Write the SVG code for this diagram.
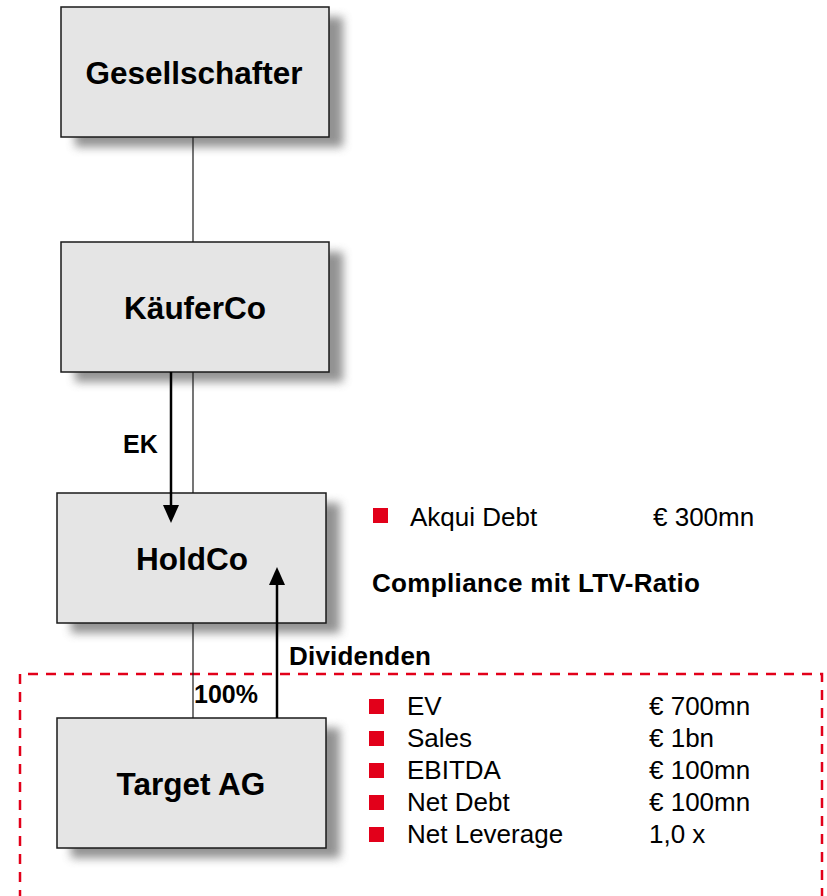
<svg xmlns="http://www.w3.org/2000/svg" width="827" height="896" viewBox="0 0 827 896">
  <style>
    .box { fill: #e5e5e5; stroke: #1a1a1a; stroke-width: 1.5; }
    .shadow { fill: #777; opacity: 0.8; filter: url(#blur); }
    .node { font-family: "Liberation Sans", Arial, sans-serif; font-weight: bold; font-size: 31.5px; fill: #000; text-anchor: middle; }
    .lbl { font-family: "Liberation Sans", Arial, sans-serif; font-weight: bold; font-size: 25px; fill: #000; }
    .lbl2 { font-family: "Liberation Sans", Arial, sans-serif; font-weight: bold; font-size: 26px; fill: #000; }
    .txt { font-family: "Liberation Sans", Arial, sans-serif; font-size: 26px; fill: #000; }
    .thin { stroke: #1a1a1a; stroke-width: 1.2; fill: none; }
    .arrow { stroke: #000; stroke-width: 2.5; fill: none; }
    .head { fill: #000; }
    .bullet { fill: #e2001a; }
    .dash { stroke: #e2001a; stroke-width: 2.5; fill: none; stroke-dasharray: 10 8; }
  </style>
  <defs>
    <filter id="blur" x="-20%" y="-20%" width="140%" height="140%">
      <feGaussianBlur stdDeviation="5"/>
    </filter>
  </defs>

  <rect width="827" height="896" fill="#fff"/>

  <!-- red dashed frame -->
  <path class="dash" d="M20,900 L20,674 L822,674 L822,900"/>

  <g id="gesellschafter">
    <rect class="shadow" x="75" y="17" width="268" height="130"/>
    <rect class="box" x="61" y="7" width="268" height="130"/>
    <text class="node" x="194" y="84">Gesellschafter</text>
  </g>

  <g id="kaeuferco">
    <rect class="shadow" x="75" y="252" width="268" height="130"/>
    <rect class="box" x="61" y="242" width="268" height="130"/>
    <text class="node" x="195" y="319">KäuferCo</text>
  </g>

  <g id="holdco">
    <rect class="shadow" x="71" y="503" width="269" height="130"/>
    <rect class="box" x="57" y="493" width="269" height="130"/>
    <text class="node" x="192" y="570">HoldCo</text>
  </g>

  <g id="target">
    <rect class="shadow" x="71" y="728" width="269" height="130"/>
    <rect class="box" x="57" y="718" width="269" height="130"/>
    <text class="node" x="191" y="795">Target AG</text>
  </g>

  <g id="connectors">
    <line class="thin" x1="193" y1="137" x2="193" y2="242"/>
    <line class="thin" x1="193" y1="372" x2="193" y2="493"/>
    <line class="thin" x1="193" y1="623" x2="193" y2="718"/>
    <line class="arrow" x1="171" y1="372" x2="171" y2="506"/>
    <path class="head" d="M163,505 L179,505 L171,523 Z"/>
    <line class="arrow" x1="277" y1="718" x2="277" y2="584"/>
    <path class="head" d="M269,585 L285,585 L277,567 Z"/>
    <text class="lbl" x="123" y="453">EK</text>
    <text class="lbl" x="194" y="703">100%</text>
    <text class="lbl2" x="289" y="665" textLength="142" lengthAdjust="spacing">Dividenden</text>
  </g>

  <g id="holdco-info">
    <rect class="bullet" x="373" y="508" width="15" height="15"/>
    <text class="txt" x="410" y="526">Akqui Debt</text>
    <text class="txt" x="653" y="526">€ 300mn</text>
    <text class="lbl2" x="372" y="592" textLength="328" lengthAdjust="spacing">Compliance mit LTV-Ratio</text>
  </g>

  <g id="target-info">
    <rect class="bullet" x="369" y="699" width="15" height="15"/>
    <text class="txt" x="407" y="715">EV</text>
    <text class="txt" x="649" y="715">€ 700mn</text>
    <rect class="bullet" x="369" y="731" width="15" height="15"/>
    <text class="txt" x="407" y="747">Sales</text>
    <text class="txt" x="649" y="747">€ 1bn</text>
    <rect class="bullet" x="369" y="763" width="15" height="15"/>
    <text class="txt" x="407" y="779">EBITDA</text>
    <text class="txt" x="649" y="779">€ 100mn</text>
    <rect class="bullet" x="369" y="795" width="15" height="15"/>
    <text class="txt" x="407" y="811">Net Debt</text>
    <text class="txt" x="649" y="811">€ 100mn</text>
    <rect class="bullet" x="369" y="827" width="15" height="15"/>
    <text class="txt" x="407" y="843">Net Leverage</text>
    <text class="txt" x="649" y="843">1,0 x</text>
  </g>
</svg>
